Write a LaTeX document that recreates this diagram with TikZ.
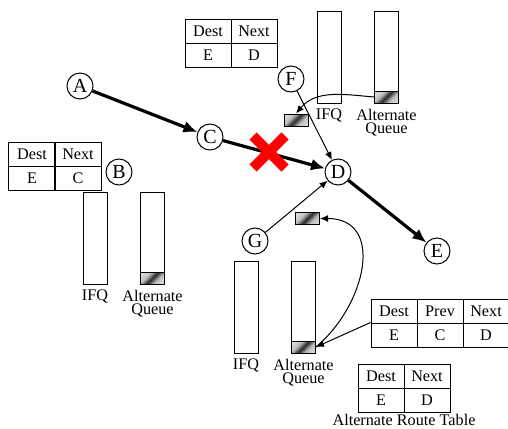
\documentclass[tikz,border=0pt]{standalone}
\usepackage{fontspec}
\setmainfont{Liberation Serif}
\usetikzlibrary{
    arrows.meta,
    positioning,
    matrix
}
\pgfdeclarehorizontalshading{pktshade}{100bp}{color(0bp)=(white);
  color(36bp)=(white!75!black); color(50bp)=(black!85);
  color(64bp)=(white!75!black); color(100bp)=(white)}
\definecolor{CutRed}{RGB}{255,0,0}
\tikzset{
  station/.style = {draw, circle, minimum size=13pt, inner sep=0pt,
                    font=\fontsize{10}{11}\selectfont},
  tcell/.style   = {draw, minimum width=23pt, minimum height=12pt,
                    inner sep=0pt, font=\fontsize{8.1}{9}\selectfont},
  rtable/.style  = {matrix of nodes, nodes={tcell}, column sep=-0.5pt,
                    row sep=-0.5pt, inner sep=0pt},
  queue/.style   = {draw, minimum width=12pt, minimum height=46pt, inner sep=0pt},
  pkt/.style     = {draw, shade, shading=pktshade, shading angle=-45,
                    minimum width=12pt, minimum height=6pt, inner sep=0pt},
  qlabel/.style  = {font=\fontsize{8.1}{6.6}\selectfont, align=center,
                    inner sep=0.5pt, label distance=2pt},
  arr/.style     = {-{Latex[length=7pt,width=6pt]}, line width=1.6pt},
  arrt/.style    = {-{Latex[length=4pt,width=3.4pt]}, line width=0.5pt},
  cross/.style   = {CutRed, line width=5pt}
}

\begin{document}
\begin{tikzpicture}[x=0.5pt, y=-0.5pt, line width=0.5pt]
\useasboundingbox (0,0) rectangle (508,428);
% stations
\node[station] (A) at (80,86) {A};
\node[station] (B) at (119,172) {B};
\node[station] (C) at (210,137) {C};
\node[station] (D) at (338,172) {D};
\node[station] (E) at (437,251) {E};
\node[station] (F) at (291,79) {F};
\node[station] (G) at (255,241) {G};
% route tables
\matrix[rtable, anchor=north west] (rtF) at (184,18) {Dest & Next\\ E & D\\};
\matrix[rtable, anchor=north west] (rtB) at (8,141) {Dest & Next\\ E & C\\};
\matrix[rtable, anchor=north west] (rtD) at (370,298) {Dest & Prev & Next\\ E & C & D\\};
\matrix[rtable, anchor=north west] (rtAlt) at (357,363) {Dest & Next\\ E & D\\};
\node[qlabel, below=0pt of rtAlt] (rtcap) {Alternate Route Table};
% queues
\node[queue, label={[qlabel]below:IFQ}] (ifqF) at (329,57) {};
\node[queue, label={[qlabel]below:Alternate\\Queue}] (altF) at (386.5,57) {};
\node[pkt, anchor=south] (altFp) at (altF.south) {};
\node[queue, label={[qlabel]below:IFQ}] (ifqB) at (95,238) {};
\node[queue, label={[qlabel]below:Alternate\\Queue}] (altB) at (152.5,238) {};
\node[pkt, anchor=south] (altBp) at (altB.south) {};
\node[queue, label={[qlabel]below:IFQ}] (ifqG) at (246,307) {};
\node[queue, label={[qlabel]below:Alternate\\Queue}] (altG) at (303.5,307) {};
\node[pkt, anchor=south] (altGp) at (altG.south) {};
% packets on the move
\node[pkt] (pktF) at (296,120) {};
\node[pkt] (pktG) at (307.5,218.5) {};
% path
\draw[arr] (A) -- (C);
\draw[arr] (C) -- (D);
\draw[arr] (D) -- (E);
\draw[arrt] (F) -- (D);
\draw[arrt] (G) -- (D);
\coordinate (cut) at (269,152);
\draw[cross] (cut) ++(-16,-16) -- ++(32,32);
\draw[cross] (cut) ++(-16,16) -- ++(32,-32);
% rerouting
\draw[arrt] (altFp.west) to[out=175, in=50] (pktF.north);
\draw[arrt] (rtD-2-1.north west) -- (altGp.east);
\draw[arrt] (altGp.east) to[out=40, in=0, looseness=1.3] (pktG.east);
\end{tikzpicture}
\end{document}
